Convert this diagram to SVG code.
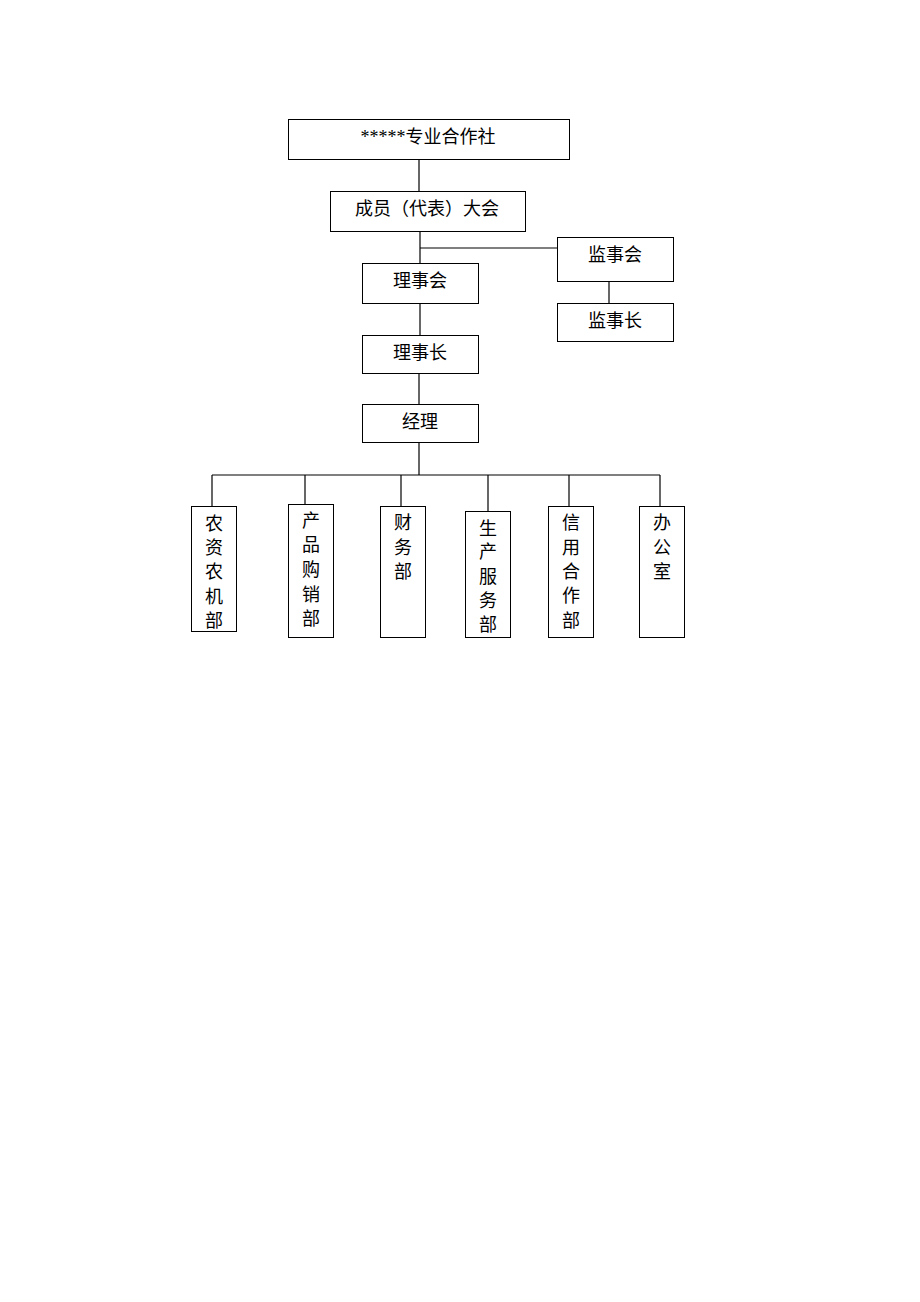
<svg xmlns="http://www.w3.org/2000/svg" width="920" height="1302" viewBox="0 0 920 1302">
<style>
rect{fill:#fff;stroke:#000;stroke-width:1}
text{font-family:"Liberation Serif","Noto Sans CJK SC",serif;font-size:18px;fill:#000;text-anchor:middle;dominant-baseline:central}
.c line{stroke:#000;stroke-width:1.2}
</style>
<rect x="0" y="0" width="920" height="1302" style="stroke:none"/>
<g class="c" id="connectors">
<line x1="419" y1="159" x2="419" y2="191"/>
<line x1="420" y1="231" x2="420" y2="263"/>
<line x1="420" y1="248" x2="557" y2="248"/>
<line x1="609" y1="281" x2="609" y2="303"/>
<line x1="420" y1="303" x2="420" y2="335"/>
<line x1="419" y1="373" x2="419" y2="404"/>
<line x1="419" y1="442" x2="419" y2="475"/>
<line x1="212" y1="475" x2="660" y2="475"/>
<line x1="212" y1="475" x2="212" y2="506"/>
<line x1="305" y1="475" x2="305" y2="504"/>
<line x1="401" y1="475" x2="401" y2="506"/>
<line x1="488" y1="475" x2="488" y2="511"/>
<line x1="569" y1="475" x2="569" y2="506"/>
<line x1="660" y1="475" x2="660" y2="506"/>
</g>
<g id="n-coop"><rect x="288.5" y="119.5" width="281" height="40"/><text x="428" y="137">*****专业合作社</text></g>
<g id="n-members"><rect x="330.5" y="191.5" width="195" height="40"/><text x="427" y="209">成员（代表）大会</text></g>
<g id="n-board"><rect x="362.5" y="263.5" width="116" height="40"/><text x="420" y="281">理事会</text></g>
<g id="n-supervisors"><rect x="557.5" y="237.5" width="116" height="44"/><text x="615" y="255">监事会</text></g>
<g id="n-supchief"><rect x="557.5" y="303.5" width="116" height="38"/><text x="615" y="321">监事长</text></g>
<g id="n-chair"><rect x="362.5" y="335.5" width="116" height="38"/><text x="420" y="353">理事长</text></g>
<g id="n-manager"><rect x="362.5" y="404.5" width="116" height="38"/><text x="420" y="422">经理</text></g>
<g id="n-d1"><rect x="191.5" y="506.5" width="45" height="125"/>
<text x="214" y="524">农</text><text x="214" y="548">资</text><text x="214" y="572">农</text><text x="214" y="597">机</text><text x="214" y="621">部</text></g>
<g id="n-d2"><rect x="288.5" y="504.5" width="45" height="133"/>
<text x="311" y="521">产</text><text x="311" y="545">品</text><text x="311" y="570">购</text><text x="311" y="595">销</text><text x="311" y="619">部</text></g>
<g id="n-d3"><rect x="380.5" y="506.5" width="45" height="131"/>
<text x="403" y="523">财</text><text x="403" y="548">务</text><text x="403" y="572">部</text></g>
<g id="n-d4"><rect x="465.5" y="511.5" width="45" height="126"/>
<text x="488" y="529">生</text><text x="488" y="552">产</text><text x="488" y="577">服</text><text x="488" y="601">务</text><text x="488" y="625">部</text></g>
<g id="n-d5"><rect x="548.5" y="506.5" width="45" height="131"/>
<text x="571" y="523">信</text><text x="571" y="548">用</text><text x="571" y="572">合</text><text x="571" y="596">作</text><text x="571" y="621">部</text></g>
<g id="n-d6"><rect x="639.5" y="506.5" width="45" height="131"/>
<text x="662" y="523">办</text><text x="662" y="548">公</text><text x="662" y="572">室</text></g>
</svg>
